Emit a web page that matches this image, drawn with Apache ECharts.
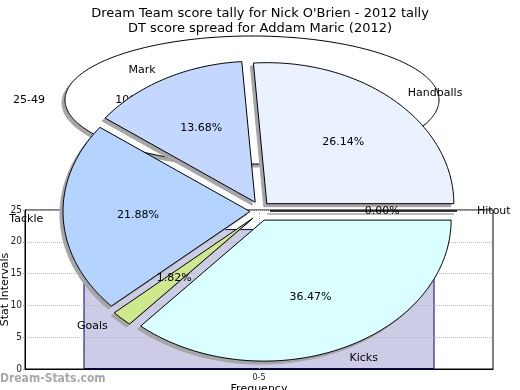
<!DOCTYPE html>
<html><head><meta charset="utf-8">
<script src="https://cdn.jsdelivr.net/npm/echarts@6/dist/echarts.min.js"></script>
<style>html,body{margin:0;padding:0;background:#fff}#c{width:520px;height:390px}</style>
</head><body><div id="c"></div>
<script>
// ---- data ----
const titleBar = "Dream Team score tally for Nick O'Brien - 2012 tally";
const titlePie = "DT score spread for Addam Maric (2012)";
const barCategories = ['0-5'];
const barValues = [22];
const bgPieCategories = ['25-49'];
const bgPieValues = [100];
const pieCategories = ['Handballs', 'Mark', 'Tackle', 'Goals', 'Kicks', 'Hitout'];
const pieValues = [26.14, 13.68, 21.88, 1.82, 36.47, 0.00];

// ---- styles ----
const pieColors = ['#ebf2ff', '#c4d8ff', '#b4d4ff', '#cde98c', '#d9ffff', '#ffffff'];
const bgPieColors = ['#ffffff'];
const FONT = 'DejaVu Sans, sans-serif';
const COND = "'DejaVu Sans Condensed', 'Liberation Sans Narrow', sans-serif";

function makeRender(cats, vals, colors, g) {
  const total = vals.reduce((a, b) => a + b, 0);
  const cum = []; let s = 0;
  vals.forEach(v => { cum.push(s); s += v; });
  return function (params, api) {
    const i = params.dataIndex;
    const v = api.value(0);
    const a0 = cum[i] / total * 2 * Math.PI;
    const a1 = (cum[i] + v) / total * 2 * Math.PI;
    const mid = (a0 + a1) / 2;
    const cx = g.cx + g.explode * Math.cos(mid);
    const cy = g.cy - g.explode * Math.sin(mid);
    const full = v / total > 0.9999;
    const pts = [];
    if (!full) pts.push([cx, cy]);
    const n = Math.max(2, Math.ceil((a1 - a0) / (Math.PI / 180)));
    for (let k = 0; k <= n; k++) {
      const t = a0 + (a1 - a0) * k / n;
      pts.push([cx + g.rx * Math.cos(t), cy - g.ry * Math.sin(t)]);
    }
    const spts = pts.map(p => [p[0] + g.sx, p[1] + g.sy]);
    const pct = (v / total * 100).toFixed(2) + '%';
    const c = Math.cos(mid), sn = Math.sin(mid);
    const align = c > 0.05 ? 'left' : (c < -0.05 ? 'right' : 'center');
    return {
      type: 'group',
      children: [
        { type: 'polygon', z2: 0, shape: { points: spts },
          style: { fill: '#a6a6a6', stroke: '#a6a6a6', lineWidth: 1 } },
        { type: 'polygon', z2: 1, shape: { points: pts },
          style: { fill: colors[i], stroke: '#000', lineWidth: 1 } },
        { type: 'text', z2: 3, x: cx + g.pr * g.rx * c, y: cy - g.pr * g.ry * sn,
          style: { text: pct, align: 'center', verticalAlign: 'middle', font: '11px ' + FONT, fill: '#000' } },
        { type: 'text', z2: 3, x: cx + (g.rx + g.lx) * c, y: cy - (g.ry + g.ly) * sn,
          style: { text: cats[i], align: align, verticalAlign: 'middle', font: '11px ' + FONT, fill: '#000' } }
      ]
    };
  };
}

const chart = echarts.init(document.getElementById('c'), null, { renderer: 'canvas' });
chart.setOption({
  animation: false,
  backgroundColor: '#fff',
  title: [
    { text: titleBar, left: 'center', top: 2, textStyle: { fontFamily: FONT, fontSize: 13, fontWeight: 'normal', color: '#000' } },
    { text: titlePie, left: 'center', top: 17, textStyle: { fontFamily: FONT, fontSize: 13, fontWeight: 'normal', color: '#000' } }
  ],
  graphic: [
    { type: 'text', left: 0, top: 373, z: 10,
      style: { text: 'Dream-Stats.com', font: 'bold 12px ' + COND, fill: '#a8a8a8' } }
  ],
  grid: { left: 25, right: 27, top: 210, bottom: 21, containLabel: false, outerBoundsMode: 'none',
    show: true, borderColor: '#000', borderWidth: 1, backgroundColor: 'transparent' },
  xAxis: {
    type: 'category', data: barCategories, z: 3,
    name: 'Frequency', nameLocation: 'middle', nameGap: 15, nameMoveOverlap: false,
    nameTextStyle: { fontFamily: FONT, fontSize: 11, color: '#000' },
    axisLine: { lineStyle: { color: '#000' } },
    axisTick: { show: false },
    axisLabel: { fontFamily: COND, fontSize: 9, color: '#222', margin: 4 }
  },
  yAxis: {
    type: 'value', min: 0, max: 25, interval: 5, z: 3,
    name: 'Stat Intervals', nameLocation: 'middle', nameGap: 14, nameMoveOverlap: false,
    nameTextStyle: { fontFamily: FONT, fontSize: 11, color: '#000' },
    axisLine: { show: true, lineStyle: { color: '#000' } },
    axisTick: { show: true, length: 2, lineStyle: { color: '#999' } },
    axisLabel: { fontFamily: COND, fontSize: 10, color: '#222', margin: 3 },
    splitLine: { show: true, lineStyle: { color: '#b8b8b8', type: 'dotted' } }
  },
  series: [
    {
      type: 'bar', data: barValues, barWidth: '75%', z: 2, silent: true,
      itemStyle: { color: '#ccccE6', borderColor: '#000080', borderWidth: 1 },
      markLine: {
        silent: true, symbol: 'none', label: { show: false },
        lineStyle: { color: '#b8b8b8', type: 'dotted', width: 1 },
        data: [{ xAxis: barCategories[0] }]
      }
    },
    {
      type: 'custom', coordinateSystem: 'none', z: 5, silent: true,
      data: bgPieValues,
      renderItem: makeRender(bgPieCategories, bgPieValues, bgPieColors,
        { cx: 252, cy: 100, rx: 187, ry: 64, explode: 0, sx: -3, sy: 3, pr: 0.6, lx: 20, ly: 10 })
    },
    {
      type: 'custom', coordinateSystem: 'none', z: 6, silent: true,
      data: pieValues,
      renderItem: makeRender(pieCategories, pieValues, pieColors,
        { cx: 260, cy: 211, rx: 187, ry: 141, explode: 10, sx: -3, sy: 3, pr: 0.6, lx: 20, ly: 10 })
    }
  ]
});
</script>
</body></html>
